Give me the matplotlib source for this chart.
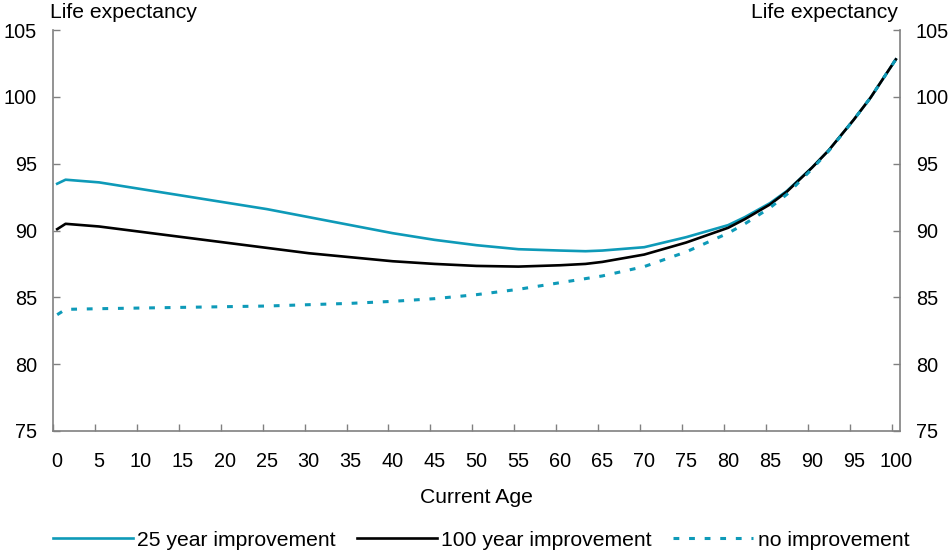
import matplotlib
matplotlib.use("Agg")
import matplotlib.pyplot as plt
from matplotlib.ticker import FixedLocator

plt.rcParams['font.family'] = ['Liberation Sans', 'DejaVu Sans']

ages = [0, 1, 5, 10, 15, 20, 25, 30, 35, 40, 45, 50, 55, 60, 63, 65, 70, 75, 80, 82, 85, 87, 90, 92,
        95, 97, 100]
imp25 = [93.5, 93.8, 93.6, 93.1, 92.6, 92.1, 91.6, 91.0, 90.4, 89.8, 89.3, 88.9, 88.6, 88.5, 88.45,
         88.5, 88.75, 89.5, 90.4, 91.0, 92.05, 92.95, 94.7, 96.0, 98.3, 99.95, 102.8]
imp100 = [90.1, 90.5, 90.3, 89.9, 89.5, 89.1, 88.7, 88.3, 88.0, 87.7, 87.5, 87.35, 87.3, 87.4, 87.5,
          87.65, 88.2, 89.1, 90.2, 90.85, 91.95, 92.9, 94.7, 96.0, 98.3, 99.95, 102.8]
noimp = [83.7, 84.1, 84.15, 84.2, 84.25, 84.3, 84.35, 84.45, 84.55, 84.7, 84.9, 85.2, 85.6, 86.1, 86.4,
         86.6, 87.3, 88.4, 89.8, 90.5, 91.7, 92.7, 94.6, 95.95, 98.3, 99.95, 102.8]

xticks = list(range(0, 101, 5))
yticks = [75, 80, 85, 90, 95, 100, 105]

blue = '#0E9AB8'
fs_tick = 14.3
fs = 15.2

fig = plt.figure(figsize=(9.53, 5.59), dpi=100)
ax = fig.add_axes([53/953, 1-431/559, 847/953, 401/559])

ax.plot(ages, imp25, color=blue, lw=1.9, label='25 year improvement')
ax.plot(ages, imp100, color='black', lw=1.9, label='100 year improvement')
ax.plot(ages, noimp, color=blue, lw=2.2, dashes=(1.9, 3.2), label='no improvement')

ax.set_xlim(-0.5, 100.5)
ax.set_ylim(75, 105)
ax.set_xticks(xticks)
ax.set_xticklabels([str(t) for t in xticks], fontsize=fs_tick)
ax.tick_params(axis='x', which='major', length=0, pad=15)
ax.xaxis.set_minor_locator(FixedLocator([t - 0.5 for t in xticks]))
ax.tick_params(axis='x', which='minor', direction='in', length=5, width=1, color='#808080')

ax.set_yticks(yticks)
ax.set_yticklabels([str(t) for t in yticks], fontsize=fs_tick)
ax.tick_params(axis='y', direction='in', length=5, width=1, color='#808080', pad=11.5,
               left=True, right=True, labelleft=True, labelright=True)

for s in ['left', 'right', 'bottom']:
    ax.spines[s].set_color('#808080')
    ax.spines[s].set_linewidth(1.2)
ax.spines['top'].set_visible(False)

ax.set_xlabel('Current Age', fontsize=fs, labelpad=12)
fig.text(50/953, 1-13/559, 'Life expectancy', fontsize=fs, ha='left', va='center')
fig.text(898/953, 1-13/559, 'Life expectancy', fontsize=fs, ha='right', va='center')

fig.legend(loc='center', bbox_to_anchor=(481/953, 1-540/559), ncol=3, frameon=False, fontsize=fs,
           handlelength=3.8, handletextpad=0.2, columnspacing=1.0)

fig.savefig('out.png', dpi=100)
